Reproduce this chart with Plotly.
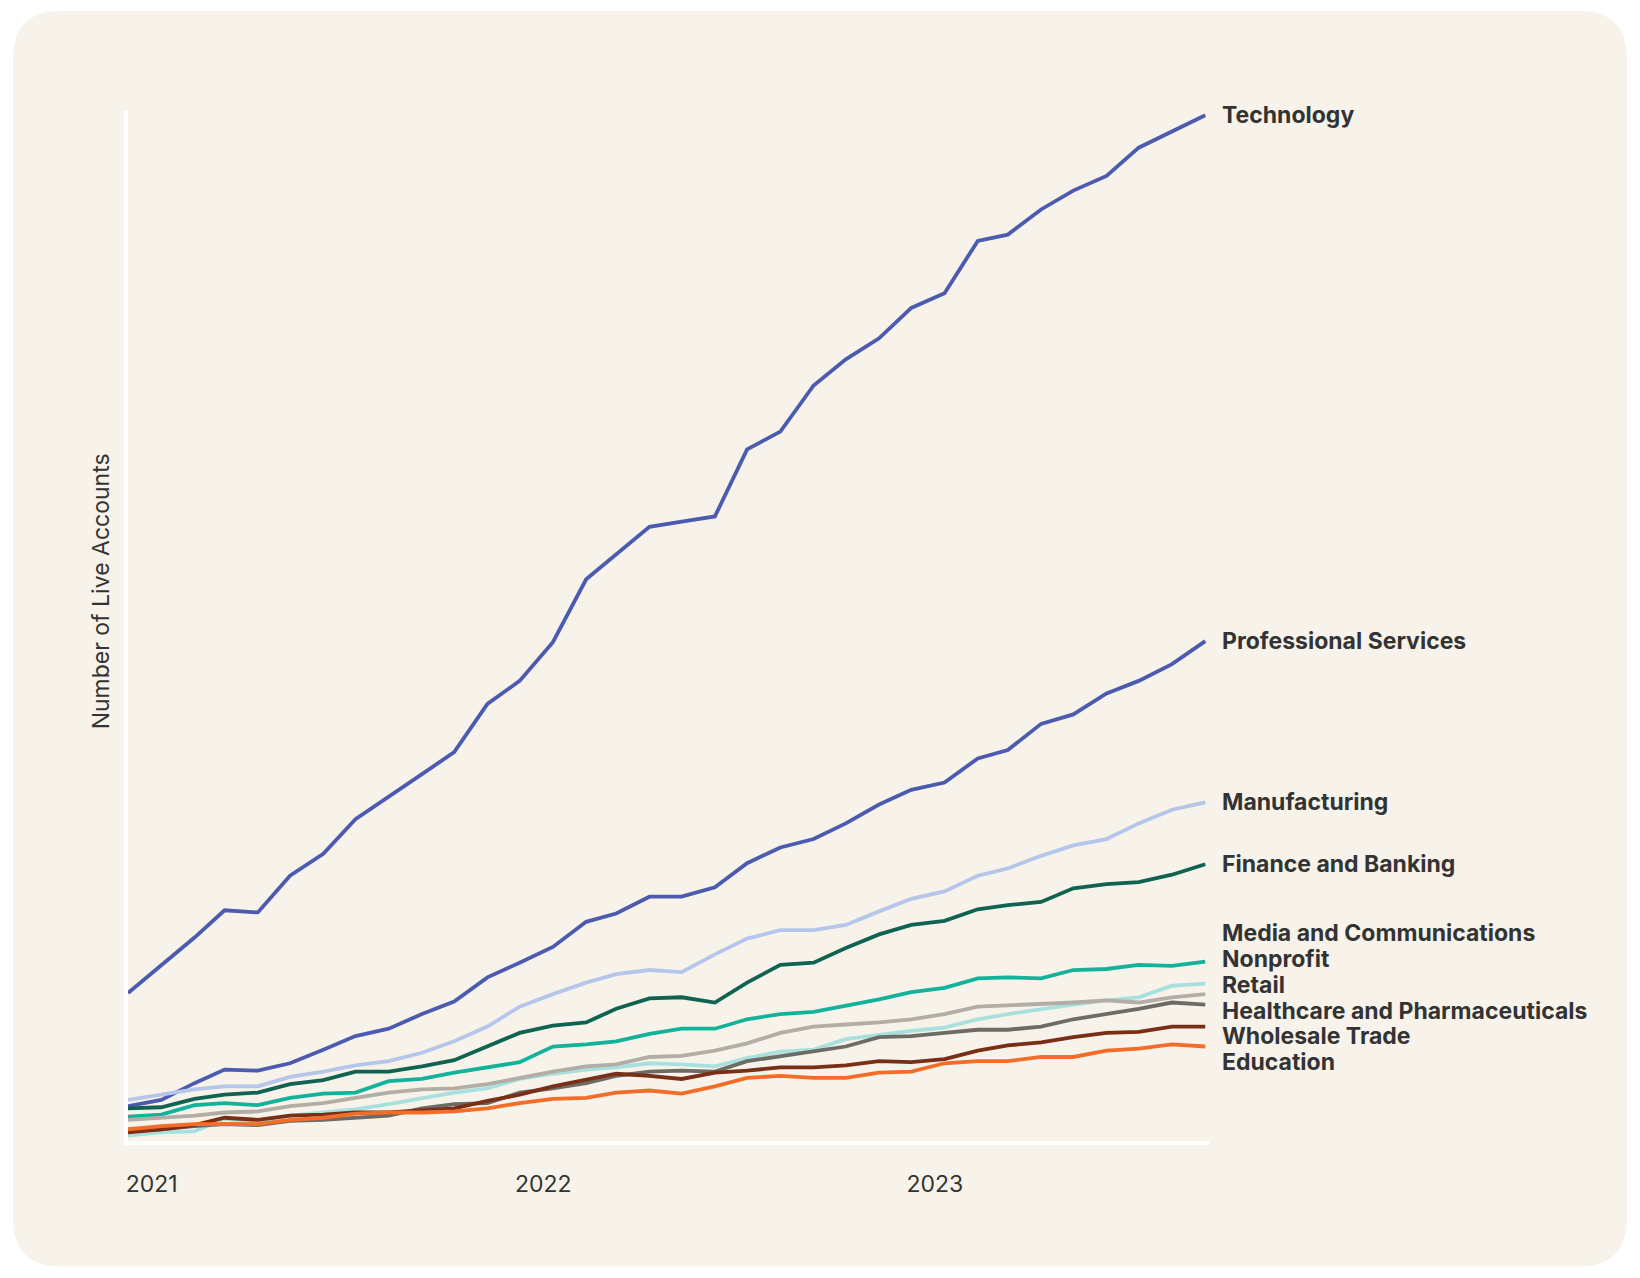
import pandas as pd
import plotly.graph_objects as go

# ---------------- data ----------------
months = pd.date_range("2020-12-10", periods=34, freq=pd.DateOffset(months=1))

industries = [
    "Technology", "Professional Services", "Manufacturing", "Finance and Banking",
    "Media and Communications", "Nonprofit", "Retail",
    "Healthcare and Pharmaceuticals", "Wholesale Trade", "Education",
]

technology = [143, 169, 196, 222, 220, 255, 276, 309, 330, 352, 373, 419, 441, 478, 538, 562, 588,
              593, 598, 662, 679, 723, 748, 768, 797, 811, 861, 867, 891, 909, 923, 950, 966, 981]
professional_services = [35, 41, 57, 70, 69, 76, 89, 102, 109, 123, 135, 158, 172, 187, 211, 219, 235,
                         235, 244, 267, 282, 290, 305, 323, 337, 344, 367, 375, 400, 409, 429, 441, 457, 479]
manufacturing = [41, 46, 51, 54, 54, 63, 68, 74, 78, 86, 97, 111, 130, 142, 153, 161, 165,
                 163, 180, 195, 203, 203, 208, 221, 233, 240, 255, 262, 274, 284, 290, 305, 318, 325]
finance_banking = [33, 34, 42, 46, 48, 56, 60, 68, 68, 73, 79, 92, 105, 112, 115, 128, 138,
                   139, 134, 153, 170, 172, 186, 199, 208, 212, 223, 227, 230, 243, 247, 249, 256, 266]
media_communications = [25, 27, 36, 38, 36, 43, 47, 48, 59, 61, 67, 72, 77, 92, 94, 97, 104,
                        109, 109, 118, 123, 125, 131, 137, 144, 148, 157, 158, 157, 165, 166, 170, 169, 173]
nonprofit = [7, 10, 11, 23, 20, 26, 29, 32, 37, 43, 48, 52, 61, 66, 70, 72, 76,
             75, 73, 81, 87, 89, 99, 103, 107, 110, 118, 123, 128, 132, 136, 139, 150, 152]
retail = [22, 24, 26, 29, 30, 35, 38, 43, 48, 51, 52, 56, 62, 68, 73, 75, 82,
          83, 88, 95, 105, 111, 113, 115, 118, 123, 130, 131, 133, 134, 136, 134, 139, 142]
healthcare_pharma = [11, 13, 16, 18, 17, 21, 22, 24, 26, 33, 37, 38, 48, 52, 57, 64, 68,
                     69, 68, 78, 83, 88, 92, 101, 102, 105, 108, 108, 111, 118, 123, 128, 134, 132]
wholesale_trade = [10, 13, 17, 24, 22, 26, 27, 29, 29, 31, 33, 40, 46, 54, 60, 66, 64,
                   61, 67, 69, 72, 72, 74, 78, 77, 80, 88, 93, 96, 101, 105, 106, 111, 111]
education = [13, 16, 18, 18, 18, 22, 24, 28, 29, 29, 30, 33, 38, 42, 43, 48, 50,
             47, 54, 62, 64, 62, 62, 67, 68, 76, 78, 78, 82, 82, 88, 90, 94, 92]

series = [technology, professional_services, manufacturing, finance_banking,
          media_communications, nonprofit, retail, healthcare_pharma,
          wholesale_trade, education]

year_ticks = ["2021-01-01", "2022-01-01", "2023-01-01"]
year_labels = ["2021", "2022", "2023"]

# ---------------- style ----------------
colors = ["#4C5BAF", "#4C5BAF", "#B5C6EA", "#0F6350", "#12B39A",
          "#A8E0DE", "#B2ADA5", "#6E6B65", "#7A2E16", "#F36D28"]
BG = "#F7F3EA"
TEXT = "#333333"
W, H = 1640, 1278
L, R, T, B = 128, 1209, 111, 1141.5
Y_RANGE = [1.8, 985]
LABEL_GAP = 24.6      # minimum label spacing in value units
CLUSTER_LIFT = 5      # merged label groups sit slightly above their mean

fig = go.Figure()
for name, vals, col in zip(industries, series, colors):
    fig.add_trace(go.Scatter(x=months, y=vals, mode="lines", name=name,
                             line=dict(color=col, width=3.8), showlegend=False,
                             hoverinfo="x+y+name"))

# --- end labels with simple de-overlap (cluster merge) ---
ends = [s[-1] for s in series]
order = sorted(range(len(ends)), key=lambda i: -ends[i])
clusters = [[i] for i in order]


def cluster_pos(c):
    n = len(c)
    center = sum(ends[i] for i in c) / n + (CLUSTER_LIFT if n > 1 else 0)
    return [center + ((n - 1) / 2 - k) * LABEL_GAP for k in range(n)]


changed = True
while changed:
    changed = False
    for j in range(len(clusters) - 1):
        a, b = cluster_pos(clusters[j]), cluster_pos(clusters[j + 1])
        if a[-1] - b[0] < LABEL_GAP:
            clusters[j] = clusters[j] + clusters[j + 1]
            del clusters[j + 1]
            changed = True
            break

label_y = {}
for c in clusters:
    for i, p in zip(c, cluster_pos(c)):
        label_y[i] = p

for i, name in enumerate(industries):
    fig.add_annotation(x=months[-1], y=label_y[i], text=name, showarrow=False,
                       xanchor="left", yanchor="middle", xshift=15,
                       font=dict(family="Inter", size=23, color=TEXT, weight=700))

# --- rounded card background (paper coords) ---
pw, ph = R - L, B - T


def px(x):
    return (x - L) / pw


def py(y):
    return (B - y) / ph


x0, x1, y0, y1, rad = 13, 1627, 11, 1267, 48
path = (f"M {px(x0 + rad)} {py(y0)} L {px(x1 - rad)} {py(y0)} "
        f"Q {px(x1)} {py(y0)} {px(x1)} {py(y0 + rad)} "
        f"L {px(x1)} {py(y1 - rad)} Q {px(x1)} {py(y1)} {px(x1 - rad)} {py(y1)} "
        f"L {px(x0 + rad)} {py(y1)} Q {px(x0)} {py(y1)} {px(x0)} {py(y1 - rad)} "
        f"L {px(x0)} {py(y0 + rad)} Q {px(x0)} {py(y0)} {px(x0 + rad)} {py(y0)} Z")
fig.add_shape(type="path", path=path, xref="paper", yref="paper",
              fillcolor=BG, line=dict(width=0), layer="below")

# --- y axis title ---
fig.add_annotation(x=px(100.6), y=py(592), xref="paper", yref="paper",
                   text="Number of Live Accounts", textangle=-90, showarrow=False,
                   xanchor="center", yanchor="middle",
                   font=dict(family="Inter", size=23, color=TEXT))

day = pd.Timedelta(days=1)
fig.update_layout(
    width=W, height=H,
    margin=dict(l=L, r=W - R, t=T, b=H - B, pad=0),
    paper_bgcolor="white", plot_bgcolor="rgba(0,0,0,0)",
    xaxis=dict(range=[months[0], months[-1] + 3.5 * day], showgrid=False, zeroline=False,
               showline=True, linecolor="white", linewidth=4,
               tickmode="array", tickvals=year_ticks, ticktext=year_labels,
               ticks="", ticklabelstandoff=19,
               tickfont=dict(family="Inter", size=23, color=TEXT)),
    yaxis=dict(range=Y_RANGE, showgrid=False, zeroline=False, showline=True,
               linecolor="white", linewidth=4, showticklabels=False, ticks=""),
    hovermode="closest",
)

fig.write_html("out.html", config={"displayModeBar": False},
               post_script="document.body.style.margin='0px';")
